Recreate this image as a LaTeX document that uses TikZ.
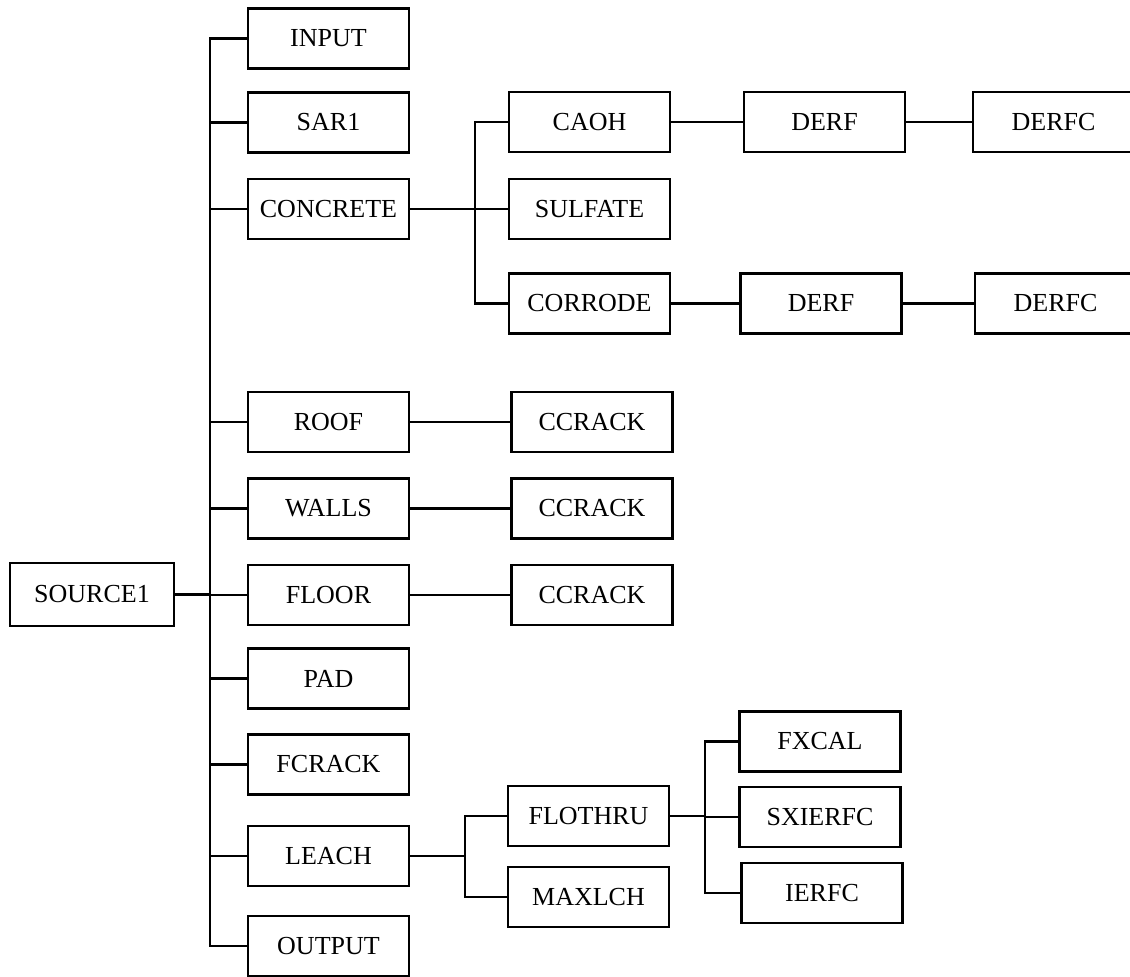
\documentclass[tikz,border=0pt]{standalone}
\usepackage{fontspec}
\setmainfont{Liberation Serif}
\usetikzlibrary{calc}
\tikzset{
  mod/.style={draw,line width=1.3pt,minimum width=80.5pt,minimum height=30pt,inner sep=2pt,font=\fontsize{13}{15}\selectfont},
  link/.style={line width=1.3pt},
}

\begin{document}
\begin{tikzpicture}[x=0.5pt,y=-0.5pt]
\useasboundingbox (0,0) rectangle (1130,977);
% root and first level
\node[mod,minimum width=82pt,minimum height=31.5pt] (src) at (92,594.5) {SOURCE1};
\node[mod] (input)    at (328.5,38.5) {INPUT};
\node[mod] (sar)      at (328.5,122.5) {SAR1};
\node[mod] (concrete) at (328.5,209) {CONCRETE};
\node[mod] (roof)     at (328.5,422) {ROOF};
\node[mod] (walls)    at (328.5,508.5) {WALLS};
\node[mod] (floor)    at (328.5,595) {FLOOR};
\node[mod] (pad)      at (328.5,678.5) {PAD};
\node[mod] (fcrack)   at (328.5,764.5) {FCRACK};
\node[mod] (leach)    at (328.5,856) {LEACH};
\node[mod] (output)   at (328.5,946) {OUTPUT};
% second level
\node[mod] (caoh)     at (589.5,122) {CAOH};
\node[mod] (sulfate)  at (589.5,209) {SULFATE};
\node[mod] (corrode)  at (589.5,303.5) {CORRODE};
\node[mod] (ccrackr)  at (592,422) {CCRACK};
\node[mod] (ccrackw)  at (592,508.5) {CCRACK};
\node[mod] (ccrackf)  at (592,595) {CCRACK};
\node[mod] (flothru)  at (588.5,816) {FLOTHRU};
\node[mod] (maxlch)   at (588.5,897) {MAXLCH};
% third and fourth level
\node[mod] (derfa)    at (824.5,122) {DERF};
\node[mod] (derfb)    at (821,303.5) {DERF};
\node[mod] (derfca)   at (1053.5,122) {DERFC};
\node[mod] (derfcb)   at (1055.5,303.5) {DERFC};
\node[mod] (fxcal)    at (820,741.5) {FXCAL};
\node[mod] (sxierfc)  at (820,817) {SXIERFC};
\node[mod] (ierfc)    at (822,893) {IERFC};
% bus points
\coordinate (b0) at (210,594.5);
\coordinate (b1) at (475,209);
\coordinate (b2) at (465,856);
\coordinate (b3) at (705,816);
% connectors
\foreach \n in {input,sar,concrete,roof,walls,floor,pad,fcrack,leach,output}
  \draw[link] (src.east) -- (b0) |- (\n.west);
\foreach \n in {caoh,sulfate,corrode}
  \draw[link] (concrete.east) -- (b1) |- (\n.west);
\foreach \n in {flothru,maxlch}
  \draw[link] (leach.east) -- (b2) |- (\n.west);
\foreach \n in {fxcal,sxierfc,ierfc}
  \draw[link] (flothru.east) -- (b3) |- (\n.west);
\draw[link] (caoh) -- (derfa);   \draw[link] (derfa) -- (derfca);
\draw[link] (corrode) -- (derfb); \draw[link] (derfb) -- (derfcb);
\draw[link] (roof) -- (ccrackr);
\draw[link] (walls) -- (ccrackw);
\draw[link] (floor) -- (ccrackf);
\end{tikzpicture}
\end{document}
